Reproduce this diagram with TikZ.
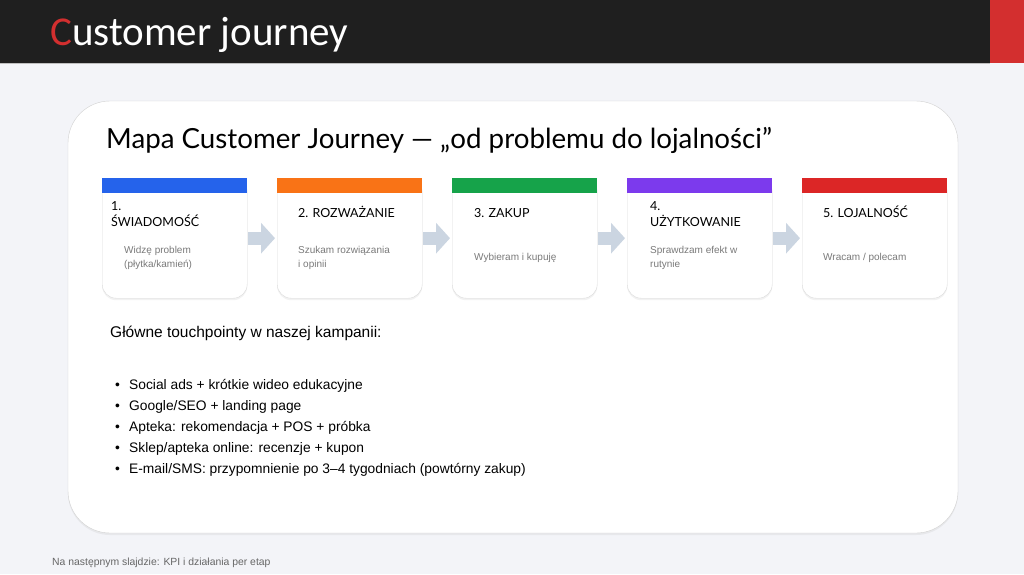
\documentclass[tikz,border=0pt]{standalone}
\usepackage{fontspec}
\setmainfont{Liberation Sans}
\newfontfamily\titlefont{Carlito}
\newfontfamily\headfont{Lato}
\usetikzlibrary{positioning,arrows.meta,shadows}
\definecolor{bgpage}{HTML}{F3F4F8}
\definecolor{topbar}{HTML}{1F1F1F}
\definecolor{accentred}{HTML}{D32F2F}
\definecolor{stageblue}{HTML}{2563EB}
\definecolor{stageorange}{HTML}{F97316}
\definecolor{stagegreen}{HTML}{16A34A}
\definecolor{stagepurple}{HTML}{7C3AED}
\definecolor{stagered}{HTML}{DC2626}
\definecolor{arrowgray}{HTML}{CBD5E1}
\definecolor{textgray}{HTML}{7A7A7A}

\begin{document}
\begin{tikzpicture}[x=1pt,y=-1pt,
  softshadow/.style={drop shadow={opacity=0.10,shadow xshift=0pt,shadow yshift=-2pt}},
  stagecard/.style={draw=black!14,fill=white,rounded corners=14pt,minimum width=145pt,minimum height=120pt,anchor=north west,inner sep=0pt,softshadow},
  stagetitle/.style={anchor=base west,inner sep=0pt,font=\headfont\fontsize{12.5}{15.5}\selectfont,align=left},
  stagetext/.style={anchor=base west,inner sep=0pt,font=\fontsize{10}{14}\selectfont,text=textgray,align=left},
  flow/.style={line width=13pt,draw=arrowgray,shorten <=1pt,shorten >=2pt,-{Triangle[length=14pt,width=30pt]}},
  bullet/.style={anchor=base west,inner sep=0pt,font=\fontsize{13.8}{16}\selectfont}]
\useasboundingbox (0,0) rectangle (1024,574);
\fill[bgpage] (0,0) rectangle (1024,574);
\fill[topbar] (0,0) rectangle (990,63);
\fill[accentred] (990,0) rectangle (1024,63);
\draw[black!25] (0,63.5) -- (990,63.5);
\node[anchor=base west,inner sep=0pt,font=\titlefont\fontsize{41}{48}\selectfont,text=white] (title) at (50,45) {\textcolor{accentred}{C}ustomer journey};

% main panel
\draw[black!18,fill=white,rounded corners=42pt,softshadow] (68,101) rectangle (958,533);
\node[anchor=base west,inner sep=0pt,font=\headfont\fontsize{27.7}{30}\selectfont] (heading) at (106,148) {Mapa Customer Journey — „od problemu do lojalności”};

% stages
\node[stagecard] (s1) at (102,178) {};
\node[stagecard] (s2) at (277,178) {};
\node[stagecard] (s3) at (452,178) {};
\node[stagecard] (s4) at (627,178) {};
\node[stagecard] (s5) at (802,178) {};
\fill[stageblue] (s1.north west) rectangle ++(145,15);
\fill[stageorange] (s2.north west) rectangle ++(145,15);
\fill[stagegreen] (s3.north west) rectangle ++(145,15);
\fill[stagepurple] (s4.north west) rectangle ++(145,15);
\fill[stagered] (s5.north west) rectangle ++(145,15);
\draw[flow] (s1) -- (s2);
\draw[flow] (s2) -- (s3);
\draw[flow] (s3) -- (s4);
\draw[flow] (s4) -- (s5);

\node[stagetitle] (t1) at (111,226) {1.\\ŚWIADOMOŚĆ};
\node[stagetitle] (t2) at (298,217) {2. ROZWAŻANIE};
\node[stagetitle] (t3) at (474,217) {3. ZAKUP};
\node[stagetitle] (t4) at (650,226) {4.\\UŻYTKOWANIE};
\node[stagetitle] (t5) at (823,217) {5. LOJALNOŚĆ};
\node[stagetext] (d1) at (124,267) {Widzę problem\\(płytka/kamień)};
\node[stagetext] (d2) at (298,267) {Szukam rozwiązania\\i opinii};
\node[stagetext] (d3) at (474,260) {Wybieram i kupuję};
\node[stagetext] (d4) at (650,267) {Sprawdzam efekt w\\rutynie};
\node[stagetext] (d5) at (823,260) {Wracam / polecam};

% touchpoints
\node[anchor=base west,inner sep=0pt,font=\fontsize{15.5}{18}\selectfont] (tp) at (110,337) {Główne touchpointy w naszej kampanii:};
\node[bullet] (b1) at (115,389) {\makebox[14pt][l]{•}Social ads + krótkie wideo edukacyjne};
\node[bullet] (b2) at (115,410) {\makebox[14pt][l]{•}Google/SEO + landing page};
\node[bullet] (b3) at (115,431) {\makebox[14pt][l]{•}Apteka: rekomendacja + POS + próbka};
\node[bullet] (b4) at (115,452) {\makebox[14pt][l]{•}Sklep/apteka online: recenzje + kupon};
\node[bullet] (b5) at (115,473) {\makebox[14pt][l]{•}E-mail/SMS: przypomnienie po 3–4 tygodniach (powtórny zakup)};

\node[anchor=base west,inner sep=0pt,font=\fontsize{10.4}{12}\selectfont,text=black!60] (note) at (52,565) {Na następnym slajdzie: KPI i działania per etap};
\end{tikzpicture}
\end{document}
